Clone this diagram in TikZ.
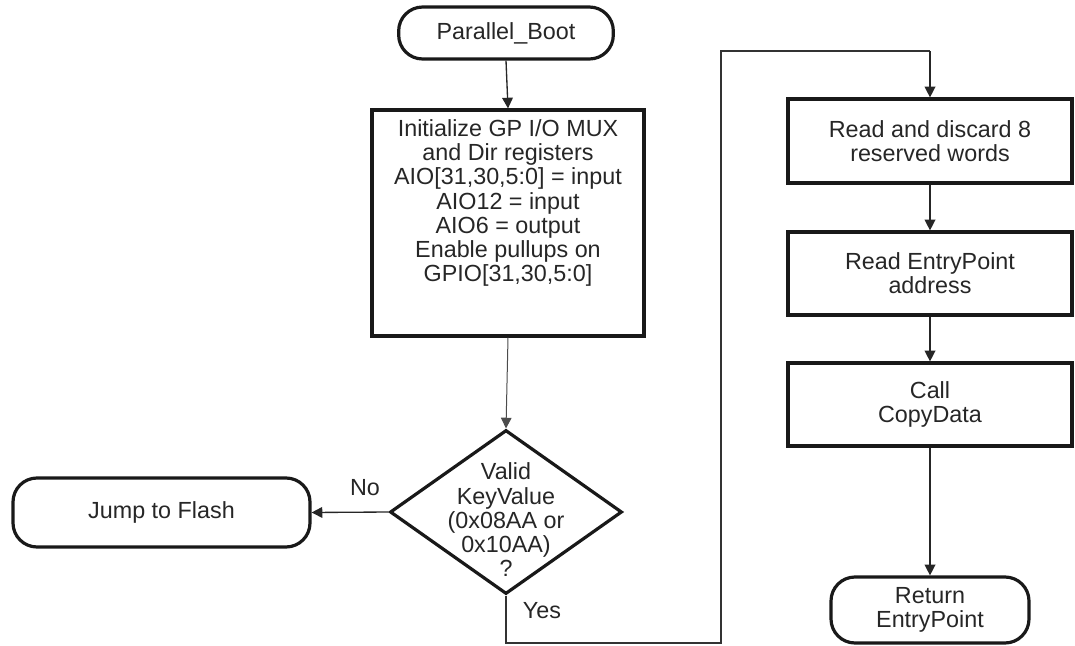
\documentclass[tikz,border=0pt]{standalone}
\usepackage{fontspec}
\setmainfont{Liberation Sans}
\usetikzlibrary{shapes.geometric,arrows.meta}
\begin{document}
\begin{tikzpicture}[x=0.75pt,y=-0.75pt,
  every node/.style={font=\fontsize{17.5pt}{18.2pt}\selectfont, inner sep=0pt, align=center, text=black!85},
  term/.style={draw=black!90, line width=2.4pt, rounded corners=18pt},
  procbox/.style={draw=black!90, line width=2.4pt},
  decision/.style={draw=black!90, diamond, line width=2.4pt, minimum width=174pt, minimum height=123pt, inner sep=0pt},
  conn/.style={draw=black!85, line width=1pt, -{Triangle[width=8pt,length=8pt]}},
  thinconn/.style={draw=black!70, line width=0.75pt, -{Triangle[width=8pt,length=8pt]}},
  plain/.style={draw=black!80, line width=1pt}]
\useasboundingbox (0,0) rectangle (1075,646);

\node[term, minimum width=161pt, minimum height=39pt] (start) at (506,33) {Parallel\_Boot};
\node[procbox, minimum width=204pt, minimum height=169.5pt] (init) at (508,223) {};
\node (initt) at (508,203) {Initialize GP I/O MUX\\and Dir registers\\AIO[31,30,5:0] = input\\AIO12 = input\\AIO6 = output\\Enable pullups on\\GPIO[31,30,5:0]};
\node[decision] (dec) at (506,512) {};
\node (dect) at (506,520) {Valid\\KeyValue\\(0x08AA or\\0x10AA)\\?};
\node[term, minimum width=222.75pt, minimum height=51.75pt] (flash) at (161.5,512.5) {Jump to Flash};
\node (no) at (365,488) {No};
\node (yes) at (542,611) {Yes};

\node[procbox, minimum width=213pt, minimum height=63pt] (rd) at (930,141) {Read and discard 8\\reserved words};
\node[procbox, minimum width=213pt, minimum height=62.25pt] (ep) at (930,273.5) {Read EntryPoint\\address};
\node[procbox, minimum width=213pt, minimum height=62.25pt] (cd) at (930,404.5) {Call\\CopyData};
\node[term, minimum width=148.5pt, minimum height=49.5pt] (ret) at (930,610) {Return\\EntryPoint};

\coordinate (l1) at (506,643);
\coordinate (l2) at (721,643);
\coordinate (l3) at (721,51);
\coordinate (l4) at (930,51);

\draw[conn] (start.south) -- (init.north);
\draw[thinconn] (init.south) -- (dec.north);
\draw[conn] (dec.west) -- (flash.east);
\draw[plain] (dec.south) -- (l1) -- (l2) -- (l3) -- (l4);
\draw[conn] (l4) -- (rd.north);
\draw[conn] (rd.south) -- (ep.north);
\draw[conn] (ep.south) -- (cd.north);
\draw[conn] (cd.south) -- (ret.north);
\end{tikzpicture}
\end{document}
